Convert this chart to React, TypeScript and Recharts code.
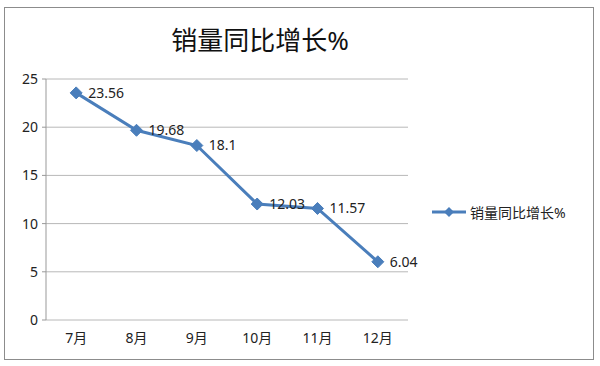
import React from 'react';
import { LineChart, Line, XAxis, YAxis, CartesianGrid, LabelList } from 'recharts';

const months = ['7月', '8月', '9月', '10月', '11月', '12月'];
const growth = [23.56, 19.68, 18.1, 12.03, 11.57, 6.04];
const yTicks = [0, 5, 10, 15, 20, 25];
const boundaryTicks = [0, 1, 2, 3, 4, 5, 6];
const seriesName = '销量同比增长%';
const title = '销量同比增长%';

const data = months.map((m, i) => ({ month: m, value: growth[i] }));

const FONT = "'Noto Sans', 'Noto Sans CJK SC', sans-serif";
const BLUE = '#4a7ebb';

const Diamond = (props: any) => {
  const { cx, cy } = props;
  if (cx == null || cy == null) return null;
  const r = 6;
  return (
    <polygon
      points={`${cx},${cy - r} ${cx + r},${cy} ${cx},${cy + r} ${cx - r},${cy}`}
      fill={BLUE}
      stroke={BLUE}
      strokeWidth={1}
    />
  );
};

export default function App() {
  return (
    <div style={{ position: 'absolute', left: 0, top: 0, width: 600, height: 366, background: '#fff' }}>
      <div
        style={{
          position: 'absolute',
          left: 4,
          top: 7,
          width: 590,
          height: 353,
          border: '1px solid #8c8c8c',
          boxSizing: 'border-box',
        }}
      />
      <div
        style={{
          position: 'absolute',
          left: 0,
          width: 520,
          top: 20,
          textAlign: 'center',
          fontFamily: FONT,
          fontSize: 26,
          color: '#111',
          lineHeight: '40px',
        }}
      >
        {title}
      </div>
      <div
        style={{
          position: 'absolute',
          left: 432,
          top: 202,
          display: 'flex',
          alignItems: 'center',
          fontFamily: FONT,
          fontSize: 14,
          color: '#222',
          whiteSpace: 'nowrap',
        }}
      >
        <svg width={36} height={14}>
          <line x1={0} y1={7} x2={34} y2={7} stroke={BLUE} strokeWidth={3} />
          <polygon points="17,2 22,7 17,12 12,7" fill={BLUE} />
        </svg>
        <span style={{ marginLeft: 2 }}>{seriesName}</span>
      </div>
      <div style={{ position: 'absolute', left: 0, top: 0 }}>
        <LineChart width={600} height={366} data={data} margin={{ top: 79, right: 192, bottom: 16, left: 0 }}>
          <CartesianGrid vertical={false} stroke="#b8b8b8" strokeWidth={1} xAxisId="cat" />
          <XAxis
            xAxisId="bounds"
            type="number"
            domain={[0, 6]}
            ticks={boundaryTicks}
            tick={false}
            tickLine={{ stroke: '#999' }}
            axisLine={{ stroke: '#999' }}
            tickSize={4}
            height={0}
          />
          <XAxis
            xAxisId="cat"
            dataKey="month"
            scale="band"
            tick={{ fill: '#222', fontSize: 14, fontFamily: FONT }}
            tickLine={false}
            axisLine={false}
            tickSize={4}
            tickMargin={9}
            interval={0}
            height={30}
          />
          <YAxis
            width={46}
            domain={[0, 25]}
            ticks={yTicks}
            tick={{ fill: '#222', fontSize: 14, fontFamily: FONT }}
            tickLine={{ stroke: '#999' }}
            axisLine={{ stroke: '#999' }}
            tickSize={4}
            tickMargin={4}
          />
          <Line
            xAxisId="cat"
            type="linear"
            dataKey="value"
            name={seriesName}
            stroke={BLUE}
            strokeWidth={3}
            dot={<Diamond />}
            activeDot={false}
            isAnimationActive={false}
          >
            <LabelList
              dataKey="value"
              position="right"
              offset={12}
              style={{ fill: '#222', fontSize: 14, fontFamily: FONT }}
            />
          </Line>
        </LineChart>
      </div>
    </div>
  );
}
